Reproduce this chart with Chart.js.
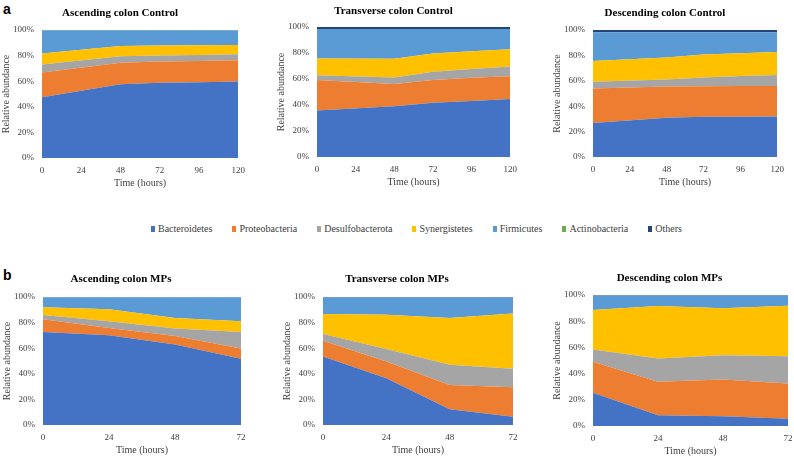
<!DOCTYPE html>
<html>
<head>
<meta charset="utf-8">
<script src="https://cdn.jsdelivr.net/npm/chart.js@4.4.1/dist/chart.umd.min.js"></script>
<style>
  body { margin: 0; background: #fff; width: 794px; height: 456px; position: relative; overflow: hidden; font-family: "Liberation Serif", serif; }
  .panel { position: absolute; }
  .tag { position: absolute; font-family: "Liberation Sans", Arial, sans-serif; font-weight: bold; font-size: 14px; line-height: 14px; color: #000; }
  #legend { position: absolute; left: 151px; top: 223px; display: flex; gap: 20px; font-size: 10px; color: #404040; white-space: nowrap; }
  #legend span.item { display: flex; align-items: center; }
  #legend i { display: inline-block; width: 4px; height: 6px; margin-right: 3px; }
</style>
</head>
<body>
<div class="tag" style="left:3px; top:2px;">a</div>
<div class="tag" style="left:3px; top:268px;">b</div>
<div id="legend"></div>

<div class="panel" id="p1"><canvas id="c1"></canvas></div>
<div class="panel" id="p2"><canvas id="c2"></canvas></div>
<div class="panel" id="p3"><canvas id="c3"></canvas></div>
<div class="panel" id="p4"><canvas id="c4"></canvas></div>
<div class="panel" id="p5"><canvas id="c5"></canvas></div>
<div class="panel" id="p6"><canvas id="c6"></canvas></div>

<script>
const phyla = ['Bacteroidetes', 'Proteobacteria', 'Desulfobacterota', 'Synergistetes', 'Firmicutes', 'Actinobacteria', 'Others'];
const colors = ['#4472C4', '#ED7D31', '#A5A5A5', '#FFC000', '#5B9BD5', '#70AD47', '#264478'];

const controlTimes = [0, 48, 72, 96, 120];
const mpsTimes = [0, 24, 48, 72];
const controlTicks = [0, 24, 48, 72, 96, 120];
const mpsTicks = [0, 24, 48, 72];

// relative abundance (%), one row per phylum in the order of `phyla`
const ascControl = [
  [47.5, 57.7, 58.7, 59.2, 59.7],
  [19.3, 16.8, 16.6, 16.6, 16.7],
  [6.2, 5.0, 4.7, 4.7, 4.6],
  [8.6, 8.0, 7.9, 7.6, 7.3],
  [18.2, 12.3, 11.9, 11.7, 11.5],
  [0.2, 0.2, 0.2, 0.2, 0.2],
  [0, 0, 0, 0, 0]
];
const transControl = [
  [35.7, 39.0, 41.8, 43.1, 44.6],
  [23.5, 17.1, 17.4, 17.9, 17.6],
  [3.6, 5.1, 6.4, 6.6, 7.4],
  [13.0, 14.3, 14.0, 13.8, 13.3],
  [22.6, 22.9, 18.8, 17.0, 15.5],
  [0.1, 0.1, 0.1, 0.1, 0.1],
  [1.5, 1.5, 1.5, 1.5, 1.5]
];
const descControl = [
  [26.8, 31.0, 31.6, 31.6, 31.8],
  [27.2, 24.5, 24.2, 24.4, 24.2],
  [5.2, 5.5, 6.8, 7.7, 8.5],
  [16.3, 17.4, 18.2, 17.9, 18.1],
  [22.7, 19.8, 17.4, 16.6, 15.6],
  [0.1, 0.1, 0.1, 0.1, 0.1],
  [1.7, 1.7, 1.7, 1.7, 1.7]
];
const ascMPs = [
  [72.7, 70.1, 62.9, 51.7],
  [9.9, 5.7, 6.7, 8.0],
  [3.4, 5.2, 5.7, 13.0],
  [6.0, 9.4, 8.3, 8.3],
  [7.8, 9.4, 16.2, 18.8],
  [0.2, 0.2, 0.2, 0.2],
  [0, 0, 0, 0]
];
const transMPs = [
  [53.5, 36.6, 12.3, 6.5],
  [12.3, 13.0, 19.0, 23.0],
  [5.2, 9.7, 15.7, 14.4],
  [15.7, 26.9, 36.6, 43.3],
  [12.9, 13.4, 16.0, 12.4],
  [0, 0, 0, 0],
  [0.4, 0.4, 0.4, 0.4]
];
const descMPs = [
  [25.3, 8.2, 7.4, 5.6],
  [23.7, 25.5, 28.1, 26.8],
  [9.4, 17.8, 18.6, 20.9],
  [30.1, 40.1, 35.7, 38.5],
  [11.2, 8.1, 9.9, 7.9],
  [0, 0, 0, 0],
  [0.3, 0.3, 0.3, 0.3]
];

// legend
const legend = document.getElementById('legend');
phyla.forEach((name, i) => {
  const s = document.createElement('span');
  s.className = 'item';
  s.innerHTML = '<i style="background:' + colors[i] + '"></i>' + name;
  legend.appendChild(s);
});

const YAXIS_W = 42, XAXIS_H = 33, RIGHT_PAD = 12;

function makePanel(n, title, times, ticks, rows, box) {
  const left = box.L - YAXIS_W;
  const top = box.ty - 10;
  const div = document.getElementById('p' + n);
  div.style.left = left + 'px';
  div.style.top = top + 'px';
  div.style.width = (box.R - left + RIGHT_PAD) + 'px';
  div.style.height = (box.B - top + XAXIS_H) + 'px';

  const titlePadTop = 10 - 6.6;
  const titlePadBottom = box.T - top - titlePadTop - 13.2;

  new Chart(document.getElementById('c' + n), {
    type: 'line',
    data: {
      datasets: rows.map((vals, i) => ({
        label: phyla[i],
        data: vals.map((v, j) => ({ x: times[j], y: v })),
        backgroundColor: colors[i],
        borderColor: colors[i],
        borderWidth: 0,
        pointRadius: 0,
        tension: 0,
        fill: i === 0 ? 'origin' : '-1'
      }))
    },
    options: {
      responsive: true,
      maintainAspectRatio: false,
      animation: false,
      layout: { padding: { left: 0, right: RIGHT_PAD, top: 0, bottom: 0 } },
      plugins: {
        legend: { display: false },
        tooltip: { enabled: false },
        title: {
          display: true,
          text: title,
          color: '#000',
          font: { family: 'Liberation Serif', size: 11, weight: 'bold' },
          padding: { top: titlePadTop, bottom: titlePadBottom }
        }
      },
      scales: {
        x: {
          type: 'linear',
          min: 0,
          max: ticks[ticks.length - 1],
          afterBuildTicks: s => { s.ticks = ticks.map(v => ({ value: v })); },
          afterFit: s => { s.height = XAXIS_H; },
          grid: { display: false, drawTicks: false },
          border: { display: false },
          ticks: { autoSkip: false, maxRotation: 0, padding: 7, color: '#404040', font: { family: 'Liberation Serif', size: 9 } },
          title: { display: true, text: 'Time (hours)', color: '#404040', padding: { top: 0, bottom: 2 }, font: { family: 'Liberation Serif', size: 10 } }
        },
        y: {
          stacked: true,
          min: 0,
          max: 100,
          afterFit: s => { s.width = YAXIS_W; },
          grid: { display: false, drawTicks: false },
          border: { display: false },
          ticks: { stepSize: 20, padding: 8, color: '#404040', font: { family: 'Liberation Serif', size: 9 }, callback: v => v + '%' },
          title: { display: true, text: 'Relative abundance', color: '#404040', padding: 0, font: { family: 'Liberation Serif', size: 10 } }
        }
      }
    }
  });
}

makePanel(1, 'Ascending colon Control', controlTimes, controlTicks, ascControl, { L: 42, T: 30, R: 240, B: 158, ty: 13 });
makePanel(2, 'Transverse colon Control', controlTimes, controlTicks, transControl, { L: 317, T: 27, R: 512, B: 157, ty: 11 });
makePanel(3, 'Descending colon Control', controlTimes, controlTicks, descControl, { L: 593, T: 30, R: 779, B: 157, ty: 13 });
makePanel(4, 'Ascending colon MPs', mpsTimes, mpsTicks, ascMPs, { L: 43, T: 297, R: 241, B: 425, ty: 279 });
makePanel(5, 'Transverse colon MPs', mpsTimes, mpsTicks, transMPs, { L: 323, T: 297, R: 513, B: 425, ty: 279 });
makePanel(6, 'Descending colon MPs', mpsTimes, mpsTicks, descMPs, { L: 593, T: 295, R: 788, B: 426, ty: 278 });
</script>
</body>
</html>
